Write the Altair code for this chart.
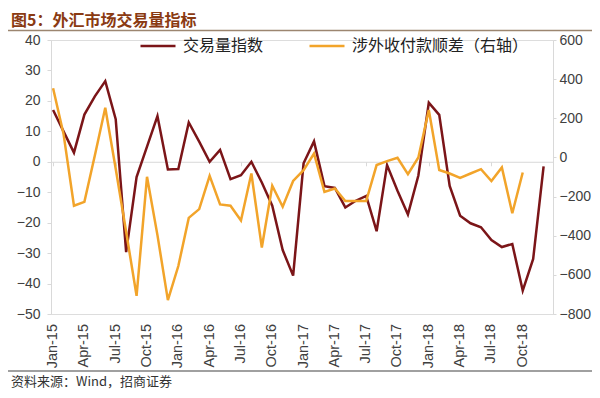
import altair as alt
import pandas as pd

# ---- data ----
month_idx = list(range(48))  # Jan-15 ... Dec-18
volume_index = [17, 10, 3, 15.5, 21.5, 26.5, 14, -29.7, -5, 5, 15, -2.5,
                -2.4, 12.9, 6.6, 0, 3.9, -5.7, -4.4, 0, -6.8, -14.4, -29, -37.4,
                -0.5, 6.7, -8, -8.6, -15, -12.8, -11.2, -22.8, -1.1, -9.5, -17.3, -4.5,
                19.4, 15.4, -7.9, -17.7, -20.2, -21.5, -25.7, -28, -27, -42.3, -31.9, -1.5]
fx_surplus = [353, 120, -247, -227, 10, 254, -58, -380, -707, -99, -397, -729,
              -555, -309, -264, -94, -240, -247, -322, -82, -460, -145, -252, -120,
              -65, 20, -176, -159, -223, -223, -223, -39, -19, -2, -85, 0,
              242, -64, -82, -104, -82, -60, -121, -51, -285, -77, None, None]
x_tick_values = list(range(0, 46, 3))
x_tick_labels = ["Jan-15", "Apr-15", "Jul-15", "Oct-15", "Jan-16", "Apr-16", "Jul-16", "Oct-16",
                 "Jan-17", "Apr-17", "Jul-17", "Oct-17", "Jan-18", "Apr-18", "Jul-18", "Oct-18"]
left_ticks = list(range(-50, 41, 10))
right_ticks = list(range(-800, 601, 200))
series_names = ["交易量指数", "涉外收付款顺差（右轴）"]
series_colors = ["#7B1518", "#F2A42A"]
title_text = ["图5：外汇市场交易量指标"]
source_text = ["资料来源：Wind，招商证券"]

df_vol = pd.DataFrame({"m": month_idx, "v": volume_index, "series": series_names[0]})
df_fx = pd.DataFrame({"m": month_idx, "v": fx_surplus, "series": series_names[1]}).dropna()
df_ticks = pd.DataFrame({"m": x_tick_values, "label": x_tick_labels})
df_title = pd.DataFrame({"t": title_text})
df_source = pd.DataFrame({"t": source_text})

W, H = 502, 274
PAD_L, PAD_T, PAD_R, PAD_B = 43, 32, 39, 76
AXIS_GRAY = "#D9D9D9"
LABEL_COLOR = "#404040"
zero_px = H * 40 / 90  # position of 0 on left axis from top

x_scale = alt.Scale(domain=[-0.2, 47.9], nice=False, zero=False)
# category axis drawn along the zero line (domain + small ticks); labels are a text layer below
x_axis = alt.Axis(values=x_tick_values, labels=False, domain=True, domainColor=AXIS_GRAY,
                  ticks=True, tickColor=AXIS_GRAY, tickSize=4, grid=False,
                  offset=-(H - zero_px), title=None)

color_scale = alt.Scale(domain=series_names, range=series_colors)
legend = alt.Legend(orient="none", legendX=88, legendY=-13, direction="horizontal", title=None,
                    symbolType="stroke", symbolSize=1225, symbolStrokeWidth=2.5,
                    labelFontSize=16, labelFont="Noto Sans CJK SC", labelColor="#222222",
                    labelLimit=400, columnPadding=40, labelOffset=6, padding=0)

left_axis = alt.Axis(values=left_ticks, orient="left", domainColor=AXIS_GRAY, tickColor=AXIS_GRAY,
                     tickSize=4, labelPadding=7, grid=False, labelFontSize=14,
                     labelFont="Liberation Sans", labelColor=LABEL_COLOR, title=None)
right_axis = alt.Axis(values=right_ticks, orient="right", domainColor=AXIS_GRAY, tickColor=AXIS_GRAY,
                      tickSize=3, labelPadding=3, grid=False, labelFontSize=14,
                      labelFont="Liberation Sans", labelColor=LABEL_COLOR, title=None)

vol_line = alt.Chart(df_vol).mark_line(strokeWidth=2.5).encode(
    x=alt.X("m:Q", scale=x_scale, axis=x_axis),
    y=alt.Y("v:Q", scale=alt.Scale(domain=[-50, 40], nice=False, zero=False), axis=left_axis),
    color=alt.Color("series:N", scale=color_scale, legend=legend),
)

fx_line = alt.Chart(df_fx).mark_line(strokeWidth=2.5).encode(
    x=alt.X("m:Q", scale=x_scale),
    y=alt.Y("v:Q", scale=alt.Scale(domain=[-800, 600], nice=False, zero=False), axis=right_axis),
    color=alt.Color("series:N", scale=color_scale, legend=legend),
)

x_labels = alt.Chart(df_ticks).mark_text(
    angle=270, align="right", baseline="middle", fontSize=14.5,
    font="Liberation Sans", color=LABEL_COLOR
).encode(x=alt.X("m:Q", scale=x_scale), y=alt.value(H + 10), text="label:N")

title_mark = alt.Chart(df_title).mark_text(
    align="left", baseline="middle", fontSize=16, fontWeight="bold",
    font="Noto Sans CJK SC", color="#8A3A12"
).encode(text="t:N", x=alt.value(-PAD_L + 3), y=alt.value(-19.5))

title_rule = alt.Chart(df_title).mark_rule(color="#9C8670", strokeWidth=1.5).encode(
    x=alt.value(-PAD_L), x2=alt.value(W + PAD_R), y=alt.value(-9.5))

source_rule = alt.Chart(df_source).mark_rule(color="#A0A0A0", strokeWidth=2).encode(
    x=alt.value(-PAD_L), x2=alt.value(W + PAD_R), y=alt.value(H + 57))

source_mark = alt.Chart(df_source).mark_text(
    align="left", baseline="middle", fontSize=13, font="Noto Sans CJK SC", color="#333333"
).encode(text="t:N", x=alt.value(-PAD_L + 3), y=alt.value(H + 68))

chart = alt.layer(vol_line, fx_line, x_labels, title_mark, title_rule, source_rule, source_mark).resolve_scale(
    y="independent"
).properties(
    width=W, height=H,
    autosize=alt.AutoSizeParams(type="none"),
    padding={"left": PAD_L, "top": PAD_T, "right": PAD_R, "bottom": PAD_B},
).configure_view(stroke=None).configure(background="white")

chart.save("out.html", embed_options={"renderer": "svg", "actions": False})
